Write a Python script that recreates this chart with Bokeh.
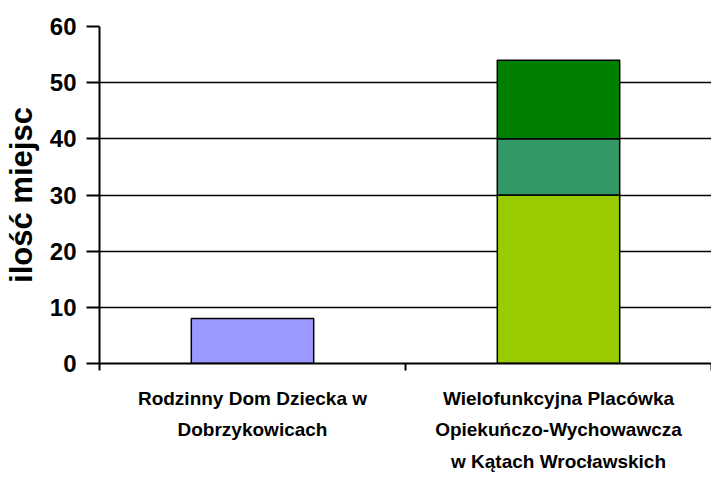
from bokeh.plotting import figure
from bokeh.models import FixedTicker, Range1d
from bokeh.embed import file_html
from bokeh.resources import INLINE

categories = ["Rodzinny Dom Dziecka w\nDobrzykowicach",
              "Wielofunkcyjna Placówka\nOpiekuńczo-Wychowawcza\nw Kątach Wrocławskich"]
series_names = ["s1", "s2", "s3", "s4"]
series_values = {
    "s1": [8, 0],
    "s2": [0, 30],
    "s3": [0, 10],
    "s4": [0, 14],
}
series_colors = {"s1": "#9999FF", "s2": "#99CC00", "s3": "#339966", "s4": "#008000"}
y_ticks = [0, 10, 20, 30, 40, 50, 60]
y_label = "ilość miejsc"

n = len(categories)
centers = [i + 0.5 for i in range(n)]

p = figure(width=711, height=474, output_backend="svg", toolbar_location=None,
           x_range=Range1d(0, n), y_range=Range1d(0, 60),
           min_border_left=10, min_border_right=0, min_border_top=26, min_border_bottom=109)
p.outline_line_color = None
p.background_fill_color = "white"
p.border_fill_color = "white"

bottoms = [0.0] * n
for name in series_names:
    vals = series_values[name]
    xs, tops, bots = [], [], []
    for i, v in enumerate(vals):
        if v > 0:
            xs.append(centers[i])
            bots.append(bottoms[i])
            tops.append(bottoms[i] + v)
            bottoms[i] += v
    if xs:
        p.vbar(x=xs, bottom=bots, top=tops, width=0.4, fill_color=series_colors[name],
               line_color="black", line_width=1.5)

p.xgrid.grid_line_color = None
p.ygrid.ticker = FixedTicker(ticks=y_ticks)
p.ygrid.grid_line_color = "black"
p.ygrid.grid_line_width = 1.5

ya = p.yaxis[0]
ya.ticker = FixedTicker(ticks=y_ticks, minor_ticks=[])
ya.axis_line_color = "black"
ya.axis_line_width = 2
ya.major_tick_line_width = 2
ya.major_tick_out = 13
ya.major_tick_in = 0
ya.minor_tick_line_color = None
ya.major_label_text_font = "Liberation Sans"
ya.major_label_text_font_style = "bold"
ya.major_label_text_font_size = "24px"
ya.major_label_text_color = "black"
ya.major_label_standoff = 10
ya.axis_label = y_label
ya.axis_label_text_font = "Liberation Sans"
ya.axis_label_text_font_style = "bold"
ya.axis_label_text_font_size = "31px"
ya.axis_label_text_color = "black"
ya.axis_label_standoff = 8

xa = p.xaxis[0]
xa.ticker = FixedTicker(ticks=centers, minor_ticks=list(range(n + 1)))
xa.major_label_overrides = {c: lab for c, lab in zip(centers, categories)}
xa.axis_line_color = "black"
xa.axis_line_width = 2
xa.major_tick_line_color = None
xa.major_tick_out = 0
xa.major_tick_in = 0
xa.minor_tick_line_color = "black"
xa.minor_tick_line_width = 2
xa.minor_tick_out = 7
xa.minor_tick_in = 0
xa.major_label_text_font = "Liberation Sans"
xa.major_label_text_font_style = "bold"
xa.major_label_text_font_size = "19px"
xa.major_label_text_color = "black"
xa.major_label_text_line_height = 1.5
xa.major_label_standoff = 17

open("out.html", "w").write(file_html(p, INLINE))
